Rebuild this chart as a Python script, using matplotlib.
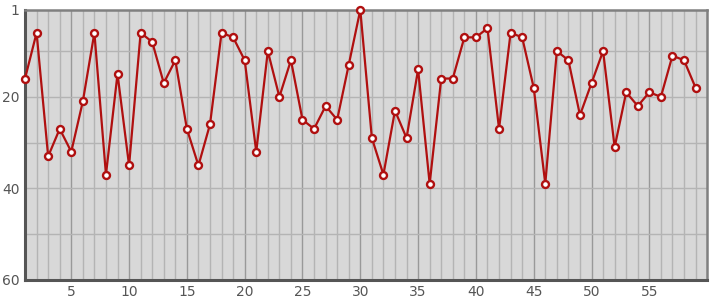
import matplotlib
matplotlib.use('Agg')
import matplotlib.pyplot as plt

# data (rank per step, lower is better)
steps = list(range(1, 60))
ranks = [16, 6, 33, 27, 32, 21, 6, 37, 15, 35,
         6, 8, 17, 12, 27, 35, 26, 6, 7, 12,
         32, 10, 20, 12, 25, 27, 22, 25, 13, 1,
         29, 37, 23, 29, 14, 39, 16, 16, 7, 7,
         5, 27, 6, 7, 18, 39, 10, 12, 24, 17,
         10, 31, 19, 22, 19, 20, 11, 12, 18]
y_ticks = [1, 20, 40, 60]
x_ticks = [5, 10, 15, 20, 25, 30, 35, 40, 45, 50, 55]

fig = plt.figure(figsize=(7.15, 3.0), dpi=100)
ax = fig.add_axes([0.035, 0.067, 0.954, 0.9])
ax.set_facecolor('#d8d8d8')

# grid: every step on x, every 10 on y, darker lines on major x ticks
for x in range(2, 60):
    c = '#999999' if x % 5 == 0 else '#b4b4b4'
    ax.axvline(x, color=c, lw=1, zorder=1)
for y in range(10, 60, 10):
    ax.axhline(y, color='#b4b4b4', lw=1, zorder=1)

ax.plot(steps, ranks, color='#b01010', lw=1.6, marker='o', ms=5,
        mfc='white', mec='#b01010', mew=1.7, zorder=3, clip_on=False)

ax.set_xlim(1, 60)
ax.set_ylim(60, 1)
ax.set_yticks(y_ticks)
ax.set_xticks(x_ticks)
ax.tick_params(length=0, labelsize=10, colors='#555555', pad=4)

for side in ['left', 'bottom']:
    ax.spines[side].set_color('#555555')
    ax.spines[side].set_linewidth(2.2)
for side in ['top', 'right']:
    ax.spines[side].set_color('#808080')
    ax.spines[side].set_linewidth(1.8)

plt.savefig('out.png')
